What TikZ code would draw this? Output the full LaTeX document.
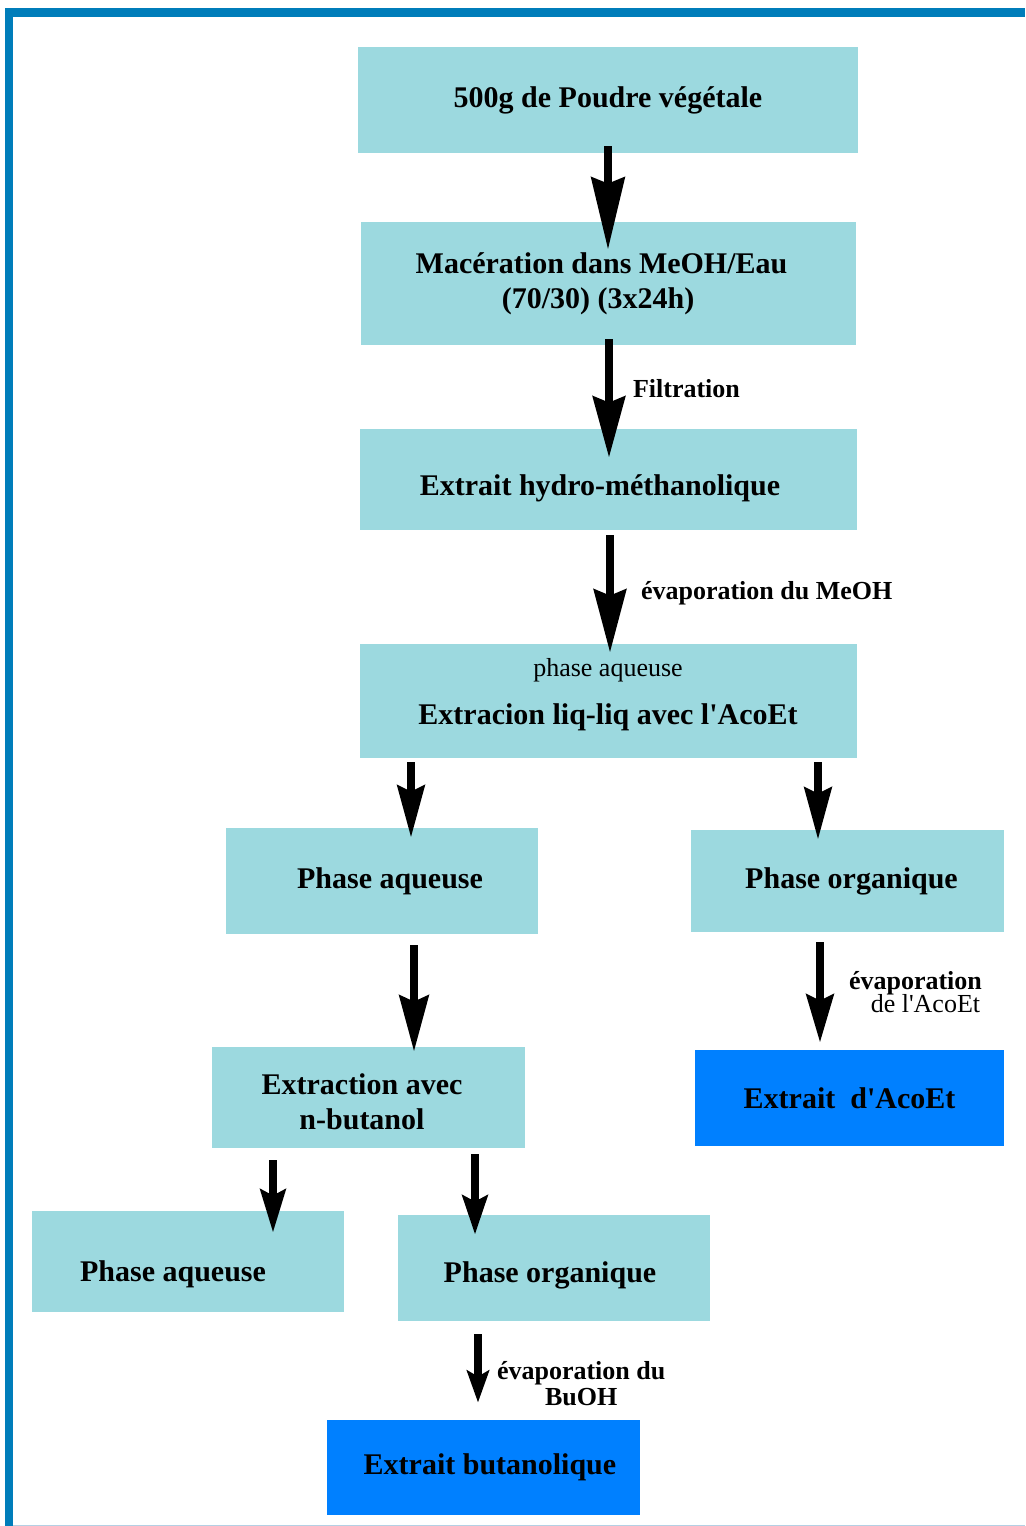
\documentclass[tikz,border=0pt]{standalone}
\usepackage{fontspec}
\setmainfont{Liberation Serif}
\usetikzlibrary{arrows.meta,positioning,calc}
\definecolor{boxteal}{RGB}{156,217,223}
\definecolor{boxblue}{RGB}{0,128,255}
\definecolor{frameblue}{RGB}{0,125,186}
\definecolor{framelight}{RGB}{180,208,228}

\begin{document}
\begin{tikzpicture}[x=0.5pt, y=-0.5pt,
    stage/.style={fill=boxteal, inner sep=0pt, align=center, font=\bfseries\fontsize{15}{17.5}\selectfont},
    product/.style={stage, fill=boxblue},
    flow/.style 2 args={line width=4pt, -{Stealth[length=#1, width=#2, inset=3pt]}},
    remark/.style={inner sep=0pt, anchor=west, align=center, font=\bfseries\fontsize{13}{13}\selectfont}]
    \useasboundingbox (0,0) rectangle (1025,1526);

    % Frame
    \draw[frameblue, line width=4.5pt] (5,12.5) -- (1025,12.5);
    \draw[frameblue, line width=4pt] (9,8) -- (9,1526);
    \draw[framelight, line width=0.5pt] (13,1525) -- (1025,1525);

    % Main column
    \node[stage, minimum width=250pt, minimum height=53pt] (poudre) at (608,100) {500g de Poudre végétale};
    \node[stage, below of=poudre, node distance=91.75pt, minimum width=247.5pt, minimum height=61.5pt] (macer) {Macération dans MeOH/Eau\hspace*{6.5pt}\\(70/30) (3x24h)\hspace*{10pt}};
    \node[stage, below of=macer, node distance=98pt, minimum width=248.5pt, minimum height=50.5pt, text height=19.5pt] (hydro) {Extrait hydro-méthanolique\hspace*{8pt}};
    \node[stage, below of=hydro, node distance=110.75pt, minimum width=248.5pt, minimum height=57pt, text depth=10pt] (liqliq) {{\mdseries\fontsize{13}{15}\selectfont phase aqueuse}\\[6.5pt]Extracion liq-liq avec l\textquotesingle AcoEt};

    % Phases after AcoEt
    \node[stage, minimum width=156pt, minimum height=53pt] (aqA) at (382,881) {\hspace*{8pt}Phase aqueuse};
    \node[stage, minimum width=156.5pt, minimum height=51pt] (orgA) at (847.5,881) {\hspace*{4pt}Phase organique};
    \node[stage, minimum width=156.5pt, minimum height=50.5pt, text height=32.5pt] (nbut) at (368.5,1097.5) {Extraction avec\hspace*{6.5pt}\\n-butanol\hspace*{6.5pt}};
    \node[product, minimum width=154.5pt, minimum height=48pt] (acoet) at (849.5,1098) {Extrait\ \ d\textquotesingle AcoEt};

    % Phases after butanol
    \node[stage, minimum width=156pt, minimum height=50.5pt, text height=23pt] (aqB) at (188,1261.5) {Phase aqueuse\hspace*{15pt}};
    \node[stage, minimum width=156pt, minimum height=53pt, text height=18pt] (orgB) at (554,1268) {Phase organique\hspace*{4pt}};
    \node[product, minimum width=156.5pt, minimum height=47.5pt] (butanol) at (483.5,1467.5) {\hspace*{6.5pt}Extrait butanolique};

    % Arrows
    \draw[flow={36pt}{16.5pt}] ($(poudre.south)+(0,-7)$) -- ($(macer.north)+(0,28)$);
    \draw[flow={30.5pt}{16pt}] ($(macer.south)+(1,-6)$) -- ($(hydro.north)+(1,29)$)
        node[remark, pos=0.42, right=10pt] {Filtration};
    \draw[flow={31.5pt}{16pt}] ($(hydro.south)+(2,5)$) -- ($(liqliq.north)+(2,9)$)
        node[remark, pos=0.49, right=13.5pt] {évaporation du MeOH};
    \draw[flow={26pt}{13.5pt}] ($(liqliq.south)+(-197,4)$) -- ($(aqA.north)+(29,10)$);
    \draw[flow={26pt}{13.5pt}] ($(liqliq.south)+(210,4)$) -- ($(orgA.north)+(-29.5,10)$);
    \draw[flow={28pt}{14.5pt}] ($(aqA.south)+(32,11)$) -- ($(nbut.north)+(45.5,5)$);
    \draw[flow={24pt}{13.5pt}] ($(orgA.south)+(-27.5,10)$) -- ($(acoet.north)+(-29.5,-7)$)
        node[remark, pos=0.5, right=12.5pt, font=\fontsize{13}{13}\selectfont] {\textbf{évaporation}\\[-1.5pt]\hspace*{10pt}de l\textquotesingle AcoEt};
    \draw[flow={21.5pt}{12.5pt}] ($(nbut.south)+(-95.5,12)$) -- ($(aqB.north)+(85,22)$);
    \draw[flow={19.5pt}{12.5pt}] ($(nbut.south)+(106.5,6)$) -- ($(orgB.north)+(-79,20)$);
    \draw[flow={16pt}{11pt}] ($(orgB.south)+(-76,13)$) -- ($(butanol.north)+(-5.5,-17)$)
        node[remark, pos=0.72, right=7.5pt] {évaporation du\\BuOH};
\end{tikzpicture}
\end{document}
